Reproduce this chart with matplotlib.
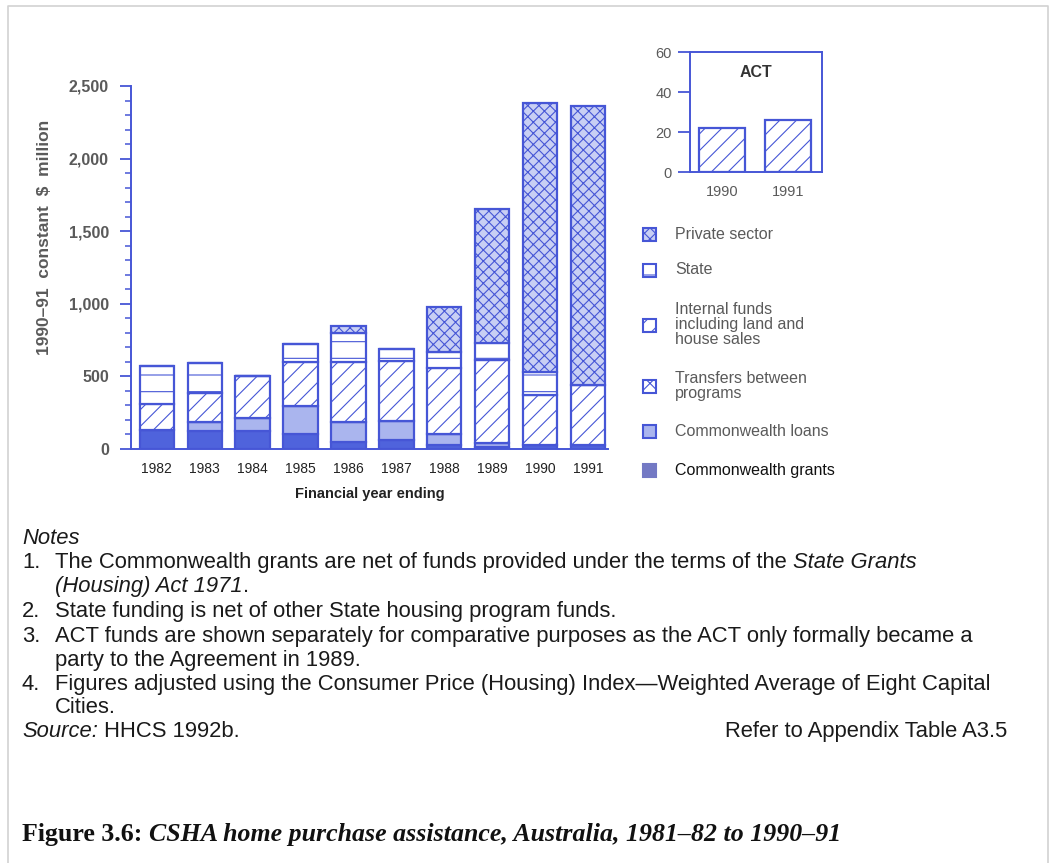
import matplotlib
matplotlib.use("Agg")
import matplotlib.pyplot as plt
from matplotlib.patches import Rectangle
from matplotlib.lines import Line2D
from matplotlib.ticker import MultipleLocator, FuncFormatter

# data ($ million, 1990-91 prices)
years = ["1982", "1983", "1984", "1985", "1986", "1987", "1988", "1989", "1990", "1991"]
grants = [131, 124, 124, 103, 50, 60, 30, 15, 25, 25]
loans = [0, 62, 89, 193, 136, 135, 70, 25, 0, 0]
transfers = [0, 0, 0, 0, 0, 0, 0, 0, 0, 0]
internal = [179, 200, 290, 304, 414, 413, 458, 573, 347, 416]
state = [262, 206, 0, 123, 200, 82, 110, 117, 158, 0]
private = [0, 0, 0, 0, 47, 0, 310, 923, 1853, 1921]

act_years = ["1990", "1991"]
act_internal = [22, 26]

BLUE = "#4656d6"
GREY = "#5a5a5a"
W, H = 1056, 863

plt.rcParams["font.family"] = ["Liberation Sans", "DejaVu Sans"]
plt.rcParams["hatch.linewidth"] = 0.8

fig = plt.figure(figsize=(W / 100, H / 100), dpi=100)


def fx(px):
    return px / W


def fy(py):
    return 1 - py / H


# light frame round the page block (open at the bottom)
fig.lines.append(Line2D([fx(8), fx(8), fx(1048), fx(1048)], [fy(863), fy(6), fy(6), fy(863)],
                        transform=fig.transFigure, color="#d2d2d2", lw=1.2))

# styles for each series: facecolor, hatch
styles = {
    "grants": ("#4f63dc", None),
    "loans": ("#aab5ee", None),
    "transfers": ("white", "xx"),
    "internal": ("white", "//"),
    "state": ("white", "-"),
    "private": ("#c8cff4", "xxx"),
}

####### main chart #######
ax = fig.add_axes([fx(131), fy(449), fx(608) - fx(131), fy(86) - fy(449)])
x = list(range(len(years)))
bottom = [0] * len(years)
for name, vals in [("grants", grants), ("loans", loans), ("transfers", transfers),
                   ("internal", internal), ("state", state), ("private", private)]:
    fc, hatch = styles[name]
    ax.bar(x, vals, 0.72, bottom=bottom, color=fc, edgecolor=BLUE, hatch=hatch,
           linewidth=1.6)
    bottom = [b + v for b, v in zip(bottom, vals)]

ax.set_xlim(-0.54, 9.42)
ax.set_ylim(0, 2500)
ax.set_xticks(x)
ax.set_xticklabels(years, fontsize=10, color="#222222")
ax.tick_params(axis="x", length=0, pad=9)
ax.yaxis.set_major_locator(MultipleLocator(500))
ax.yaxis.set_minor_locator(MultipleLocator(100))
ax.yaxis.set_major_formatter(FuncFormatter(lambda v, p: f"{int(v):,}"))
ax.tick_params(axis="y", which="major", length=8, width=1.3, color=BLUE,
               labelsize=11.5, labelcolor=GREY, pad=8)
ax.tick_params(axis="y", which="minor", length=4, width=1.1, color=BLUE)
for lab in ax.get_yticklabels():
    lab.set_fontweight("bold")
for s in ["top", "right"]:
    ax.spines[s].set_visible(False)
for s in ["left", "bottom"]:
    ax.spines[s].set_color(BLUE)
    ax.spines[s].set_linewidth(1.4)
ax.set_xlabel("Financial year ending", fontsize=10.5, fontweight="bold",
              color="#222222", labelpad=8)
fig.text(fx(45), fy(237), "1990\u201391  constant  $  million", rotation=90,
         ha="center", va="center", fontsize=12.5, fontweight="bold", color=GREY)

####### ACT inset #######
ax2 = fig.add_axes([fx(690), fy(172), fx(822) - fx(690), fy(52) - fy(172)])
ax2.bar([0, 1], act_internal, 0.7, color="white", edgecolor=BLUE, hatch="//",
        linewidth=1.6)
ax2.set_xlim(-0.485, 1.515)
ax2.set_ylim(0, 60)
ax2.set_yticks([0, 20, 40, 60])
ax2.set_xticks([0, 1])
ax2.set_xticklabels(act_years, fontsize=10.5, color=GREY)
ax2.tick_params(axis="x", length=0, pad=9)
ax2.tick_params(axis="y", length=9, width=1.3, color=BLUE, labelsize=10.5,
                labelcolor=GREY, pad=4)
for s in ax2.spines.values():
    s.set_color(BLUE)
    s.set_linewidth(1.4)
ax2.text(0.5, 0.83, "ACT", transform=ax2.transAxes, ha="center", va="center",
         fontsize=11.5, fontweight="bold", color="#333333")

####### legend drawn by hand #######
legend_items = [
    ("private", "Private sector", 234, GREY),
    ("state", "State", 270, GREY),
    ("internal", "Internal funds\nincluding land and\nhouse sales", 325, GREY),
    ("transfers", "Transfers between\nprograms", 386, GREY),
    ("loans", "Commonwealth loans", 431, GREY),
    ("grants", "Commonwealth grants", 470, "#111111"),
]
for key, label, py, col in legend_items:
    fc, hatch = styles[key]
    if key == "grants":
        fc = "#7379c4"
    fig.patches.append(Rectangle((fx(643), fy(py + 7)), fx(656) - fx(643), fy(py - 6) - fy(py + 7),
                                 transform=fig.transFigure, facecolor=fc,
                                 edgecolor=BLUE if key != "grants" else fc,
                                 hatch=hatch, lw=1.5))
    fig.text(fx(675), fy(py), label, ha="left", va="center", fontsize=11.5,
             color=col, linespacing=1.0)

####### notes #######
renderer = fig.canvas.get_renderer()
NOTE_SIZE = 15.8


def rich(px, py, parts, size=NOTE_SIZE, family=None, color="#1a1a1a"):
    xf = fx(px)
    for s, style, weight in parts:
        kw = dict(fontsize=size, style=style, fontweight=weight, color=color,
                  ha="left", va="baseline")
        if family:
            kw["family"] = family
        t = fig.text(xf, fy(py), s, **kw)
        xf += t.get_window_extent(renderer).width / fig.bbox.width


N, I = "normal", "italic"
rich(22, 544, [("Notes", I, N)])
note_lines = [
    (568, "1.", [("The Commonwealth grants are net of funds provided under the terms of the ", N, N),
                 ("State Grants", I, N)]),
    (592, None, [("(Housing) Act 1971", I, N), (".", N, N)]),
    (617, "2.", [("State funding is net of other State housing program funds.", N, N)]),
    (642, "3.", [("ACT funds are shown separately for comparative purposes as the ACT only formally became a", N, N)]),
    (666, None, [("party to the Agreement in 1989.", N, N)]),
    (690, "4.", [("Figures adjusted using the Consumer Price (Housing) Index\u2014Weighted Average of Eight Capital", N, N)]),
    (713, None, [("Cities.", N, N)]),
]
for py, num, parts in note_lines:
    if num:
        rich(22, py, [(num, N, N)])
    rich(55, py, parts)
rich(22, 737, [("Source:", I, N), (" HHCS 1992b.", N, N)])
fig.text(fx(1007), fy(737), "Refer to Appendix Table A3.5", ha="right", va="baseline",
         fontsize=NOTE_SIZE, color="#1a1a1a")

rich(22, 841, [("Figure 3.6: ", N, "bold"),
               ("CSHA home purchase assistance, Australia, 1981\u201382 to 1990\u201391", I, "bold")],
     size=18.6, family=["Liberation Serif", "DejaVu Serif"], color="#111111")

fig.savefig("out.png", dpi=100)
